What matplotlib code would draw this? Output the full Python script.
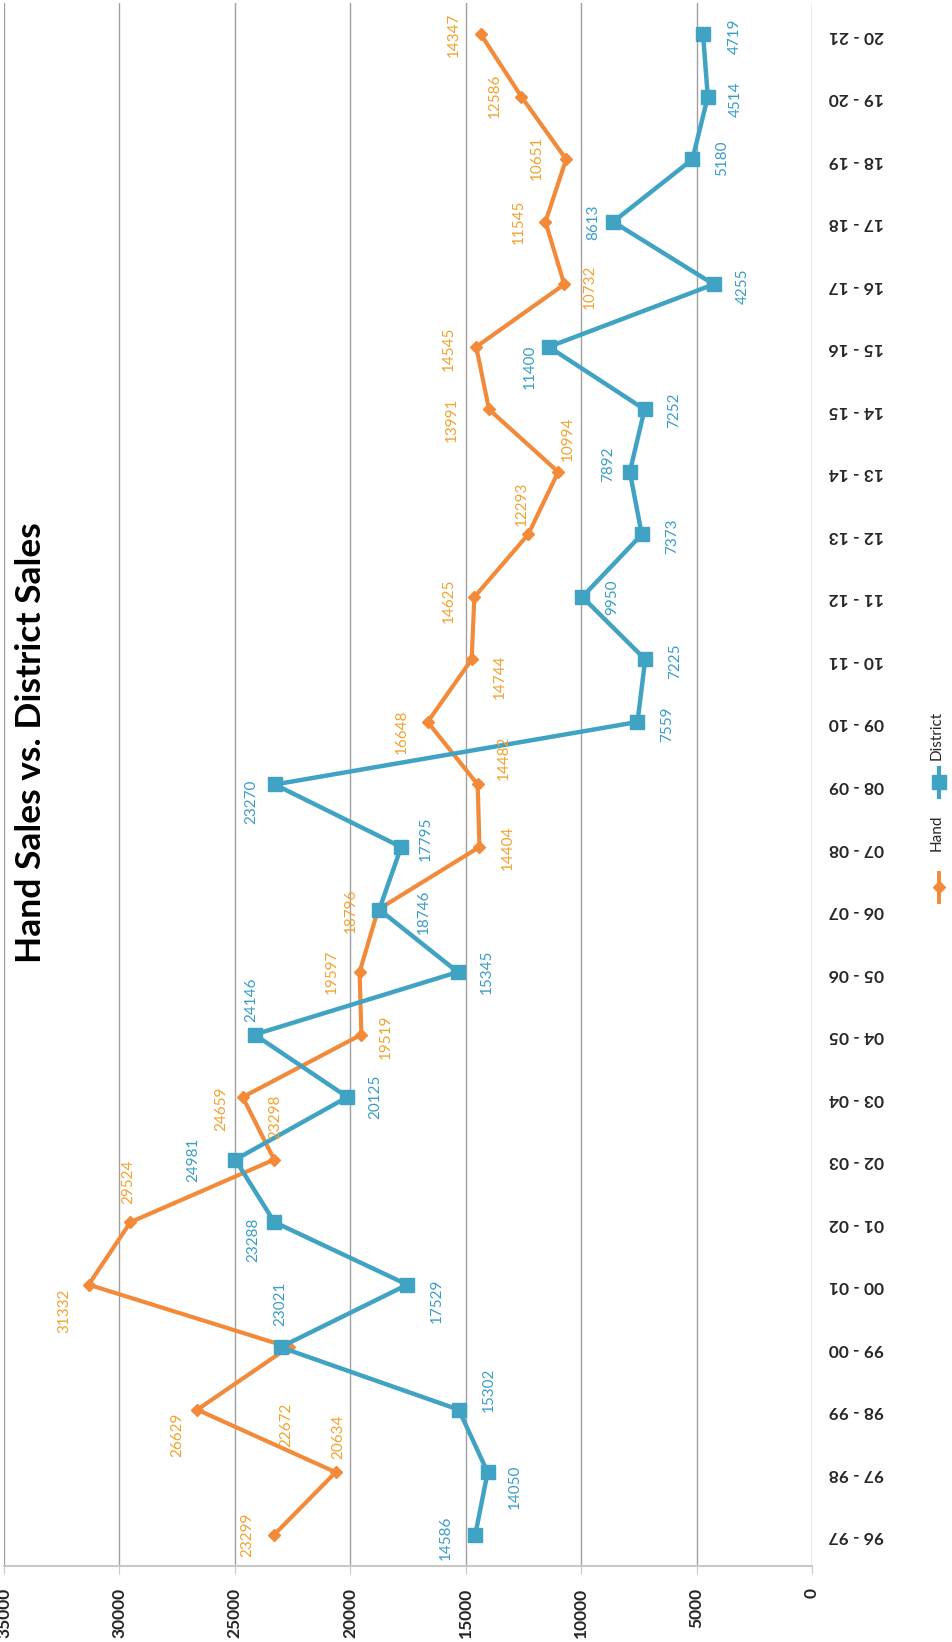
import matplotlib
matplotlib.use("Agg")
import matplotlib.pyplot as plt
from matplotlib.lines import Line2D

# ---------------- data ----------------
categories = ["96 - 97", "97 - 98", "98 - 99", "99 - 00", "00 - 01", "01 - 02",
              "02 - 03", "03 - 04", "04 - 05", "05 - 06", "06 - 07", "07 - 08",
              "08 - 09", "09 - 10", "10 - 11", "11 - 12", "12 - 13", "13 - 14",
              "14 - 15", "15 - 16", "16 - 17", "17 - 18", "18 - 19", "19 - 20",
              "20 - 21"]
hand = [23299, 20634, 26629, 22672, 31332, 29524, 23298, 24659, 19519, 19597,
        18796, 14404, 14482, 16648, 14744, 14625, 12293, 10994, 13991, 14545,
        10732, 11545, 10651, 12586, 14347]
district = [14586, 14050, 15302, 23021, 17529, 23288, 24981, 20125, 24146, 15345,
            18746, 17795, 23270, 7559, 7225, 9950, 7373, 7892, 7252, 11400,
            4255, 8613, 5180, 4514, 4719]
value_ticks = [0, 5000, 10000, 15000, 20000, 25000, 30000, 35000]
title = "Hand Sales vs. District Sales"
series_names = ["Hand", "District"]

# label placement offsets (pixels: right, down) -- layout only
hand_off = [(-27, 0), (3, -35), (-20, 25), (-2, 78), (-24, 26), (-2, -40), (1, -43),
            (-21, 12), (24, 2), (-28, 0), (-27, 1), (28, 1), (26, -27), (-26, 10),
            (28, 17), (-26, 4), (-6, -31), (10, -33), (-37, 10), (-27, 2), (26, 2),
            (-27, 0), (-29, -1), (-27, -1), (-27, 1)]
dist_off = [(-29, 3), (27, 15), (30, -20), (0, -43), (29, 16), (-21, 18), (-42, 0),
            (28, 0), (-3, -35), (29, 0), (45, 2), (25, -8), (-23, 17), (30, 2),
            (30, 2), (30, 0), (30, 2), (-22, -8), (30, 1), (-19, 20), (29, 2),
            (-20, 0), (30, -1), (28, 2), (32, 2)]

ORANGE = "#F28A3A"
ORANGE_TXT = "#F2A22E"
BLUE = "#41A3C3"
BLUE_TXT = "#3A9DC6"
FONT = ["Lato", "DejaVu Sans"]

plt.rcParams['font.family'] = FONT

W, H = 952, 1642
fig = plt.figure(figsize=(W / 100, H / 100), dpi=100)

left, right = 4, 812
top, bottom = 3, 1566
ax = fig.add_axes([left / W, (H - bottom) / H, (right - left) / W, (bottom - top) / H])

pos = list(range(len(categories)))
ax.plot(hand, pos, color=ORANGE, lw=3.0, marker="D", ms=6.5, zorder=3)
ax.plot(district, pos, color=BLUE, lw=3.2, marker="s", ms=9.5, zorder=3)

for i, v in enumerate(hand):
    dx, dy = hand_off[i]
    ax.annotate(str(v), (v, i), xytext=(dx, -dy), textcoords="offset pixels",
                rotation=90, ha="center", va="center", color=ORANGE_TXT,
                fontsize=11, zorder=4)
for i, v in enumerate(district):
    dx, dy = dist_off[i]
    ax.annotate(str(v), (v, i), xytext=(dx, -dy), textcoords="offset pixels",
                rotation=90, ha="center", va="center", color=BLUE_TXT,
                fontsize=11, zorder=4)

ax.set_xlim(35000, 0)
ax.set_ylim(-0.5, len(categories) - 0.5)
ax.set_xticks(value_ticks)
ax.set_xticklabels([str(t) for t in value_ticks], rotation=90, fontsize=12.5,
                   fontweight="bold", color="#262626")
ax.tick_params(axis="x", length=6, color="#C8C8C8", pad=10)
ax.yaxis.tick_right()
ax.set_yticks(pos)
ax.set_yticklabels(categories, rotation=180, fontsize=12.5, fontweight="bold",
                   color="#262626")
ax.tick_params(axis="y", length=0, pad=12)
ax.grid(axis="x", color="#A0A0A0", lw=1.0)
ax.set_axisbelow(True)
for s in ["top", "left", "right"]:
    ax.spines[s].set_visible(False)
ax.spines["bottom"].set_color("#C8C8C8")
ax.spines["bottom"].set_linewidth(1.5)

# overlay in pixel coordinates for title and legend
ov = fig.add_axes([0, 0, 1, 1], facecolor="none")
ov.set_xlim(0, W)
ov.set_ylim(H, 0)
ov.axis("off")
ov.text(31, 743, title, rotation=90, ha="center", va="center", fontsize=25.5,
        fontweight="bold", color="#000000")
ov.add_line(Line2D([939, 939], [873, 902], color=ORANGE, lw=2.8))
ov.plot([939], [887], marker="D", ms=6.5, color=ORANGE)
ov.text(937, 833, series_names[0], rotation=90, ha="center", va="center",
        fontsize=11, color="#262626")
ov.add_line(Line2D([939, 939], [768, 797], color=BLUE, lw=3.0))
ov.plot([939], [782], marker="s", ms=9.5, color=BLUE)
ov.text(937, 735, series_names[1], rotation=90, ha="center", va="center",
        fontsize=11, color="#262626")

fig.savefig("out.png", dpi=100)
